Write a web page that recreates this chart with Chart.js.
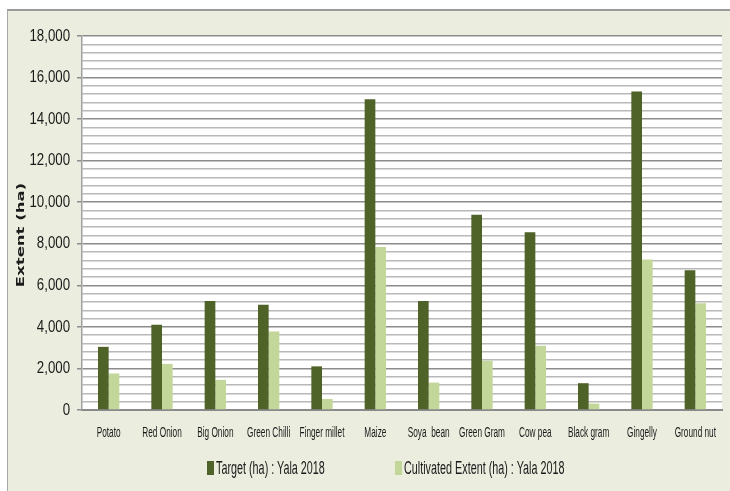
<!DOCTYPE html>
<html>
<head>
<meta charset="utf-8">
<script src="https://cdn.jsdelivr.net/npm/chart.js@4.4.1/dist/chart.umd.min.js"></script>
<style>
  html, body { margin: 0; padding: 0; background: #fff; }
  #frame {
    position: absolute; left: 7px; top: 9px; width: 723px; height: 482px;
    background: #ebeedf; border-top: 2px solid #9a9a9a; border-left: 1px solid #a8a8a8;
  }
  #wrap { position: absolute; left: 0; top: 0; width: 730px; height: 491px; }
  .key { position: absolute; top: 461px; width: 7px; height: 14px; }
  .keyText {
    position: absolute; top: 459px; font: 18px/18px 'Liberation Sans', Arial, sans-serif;
    color: #1a1a1a; white-space: nowrap; transform: scaleX(0.6); transform-origin: 0 0;
  }
</style>
</head>
<body>
<div id="frame"></div>
<div id="wrap"><canvas id="myChart" width="730" height="491"></canvas></div>
<div id="legend"></div>
<script>
const crops = ["Potato", "Red Onion", "Big Onion", "Green Chilli", "Finger millet", "Maize",
    "Soya  bean", "Green Gram", "Cow pea", "Black gram", "Gingelly", "Ground nut"];
const targetHa = [3040, 4100, 5240, 5060, 2100, 14950, 5250, 9400, 8550, 1290, 15330, 6730];
const cultivatedHa = [1760, 2220, 1450, 3780, 530, 7850, 1320, 2370, 3090, 310, 7240, 5140];
const seriesNames = ["Target (ha) : Yala 2018", "Cultivated Extent (ha) : Yala 2018"];
const seriesColors = ["#4f6228", "#c4d79b"];
const yMax = 18000;
const sans = "'Liberation Sans', Arial, sans-serif";

// the source picture is squashed sideways, so text is drawn condensed (by font size)
const squeeze = { 17: 0.78, 14: 0.59 };
const canvas = document.getElementById("myChart");
const ctx = canvas.getContext("2d");
const rawFill = ctx.fillText.bind(ctx);
const rawMeasure = ctx.measureText.bind(ctx);
function squeezeFor(font) {
    const m = /(\d+(?:\.\d+)?)px/.exec(font);
    return (m && squeeze[+m[1]]) || 1;
}
ctx.fillText = (t, x, y, maxW) => {
    const f = squeezeFor(ctx.font);
    if (f === 1) {
        return maxW === undefined ? rawFill(t, x, y) : rawFill(t, x, y, maxW);
    }
    rawFill(t, x, y, rawMeasure(t).width * f);
};
ctx.measureText = (t) => {
    const m = rawMeasure(t);
    const f = squeezeFor(ctx.font);
    if (f === 1) return m;
    return { width: m.width * f, actualBoundingBoxAscent: m.actualBoundingBoxAscent,
        actualBoundingBoxDescent: m.actualBoundingBoxDescent };
};

// white plot area + rotated axis title
const plotBack = {
    id: "plotBack",
    beforeDraw(chart) {
        const a = chart.chartArea;
        const c = chart.ctx;
        c.save();
        c.fillStyle = "#ffffff";
        c.fillRect(a.left, a.top, a.right - a.left, a.bottom - a.top);
        c.restore();
    },
    afterDraw(chart) {
        const c = chart.ctx;
        c.save();
        c.translate(23.5, 235);
        c.rotate(-Math.PI / 2);
        c.scale(1, 0.64);
        c.font = "bold 16.5px 'DejaVu Sans', sans-serif";
        c.fillStyle = "#1a1a1a";
        c.textAlign = "center";
        c.textBaseline = "alphabetic";
        c.fillText("Extent (ha)", 0, 0);
        c.restore();
    }
};

new Chart(canvas, {
    type: "bar",
    data: {
        labels: crops,
        datasets: [{
            label: seriesNames[0],
            data: targetHa,
            backgroundColor: seriesColors[0],
            categoryPercentage: 0.4,
            barPercentage: 1.0
        }, {
            label: seriesNames[1],
            data: cultivatedHa,
            backgroundColor: seriesColors[1],
            categoryPercentage: 0.4,
            barPercentage: 1.0
        }]
    },
    options: {
        responsive: false,
        animation: false,
        layout: { padding: { left: 0, top: 36, right: 8, bottom: 37 } },
        plugins: {
            tooltip: { enabled: false },
            legend: { display: false }
        },
        scales: {
            x: {
                grid: { display: false, drawTicks: false },
                border: { color: "#8a8a8a", width: 2 },
                ticks: { color: "#1a1a1a", font: { family: sans, size: 14 }, padding: 15, maxRotation: 0, autoSkip: false },
                afterFit(scale) {
                    scale.height = 44;
                    scale.paddingLeft = 0;
                    scale.paddingRight = 0;
                }
            },
            y: {
                min: 0,
                max: yMax,
                grid: {
                    color: (c) => c.tick && c.tick.value % 2000 === 0 ? "#8c8c8c" : "#b8b8b8",
                    lineWidth: 1.5,
                    tickLength: 5,
                    tickColor: (c) => c.tick && c.tick.value % 2000 === 0 ? "#8c8c8c" : "rgba(0,0,0,0)"
                },
                border: { color: "#a0a0a0", width: 1.5 },
                ticks: {
                    stepSize: 400,
                    maxTicksLimit: 100,
                    autoSkip: false,
                    padding: 7,
                    color: "#1a1a1a",
                    font: { family: sans, size: 17 },
                    callback: (v) => v % 2000 === 0 ? v.toLocaleString("en-US") : ""
                },
                afterFit(scale) { scale.width = 82; }
            }
        }
    },
    plugins: [plotBack]
});

// legend, laid out as in the source
const legendEl = document.getElementById("legend");
const keyLeft = [207, 395];
seriesNames.forEach((name, i) => {
    const sw = document.createElement("div");
    sw.className = "key";
    sw.style.left = keyLeft[i] + "px";
    sw.style.background = seriesColors[i];
    const tx = document.createElement("div");
    tx.className = "keyText";
    tx.style.left = (keyLeft[i] + 9) + "px";
    tx.textContent = name;
    legendEl.appendChild(sw);
    legendEl.appendChild(tx);
});
</script>
</body>
</html>
